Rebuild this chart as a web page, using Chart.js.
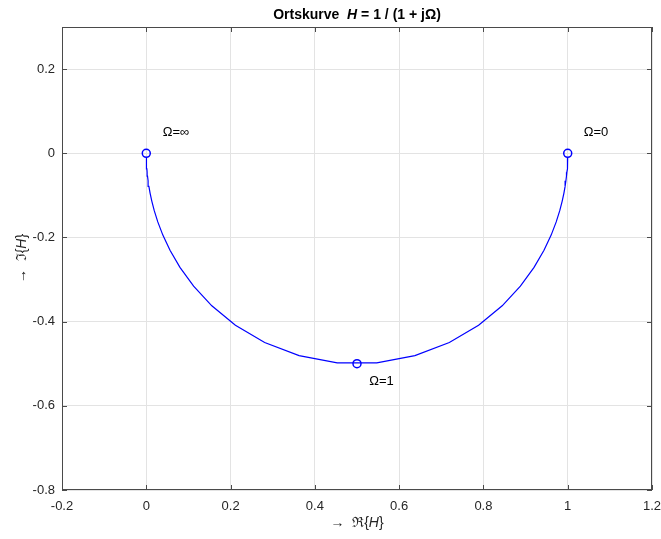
<!DOCTYPE html>
<html><head><meta charset="utf-8">
<script src="https://cdn.jsdelivr.net/npm/chart.js@4.4.0/dist/chart.umd.min.js"></script>
<style>html,body{margin:0;padding:0;background:#fff}#wrap{width:661px;height:539px}</style>
</head><body><div id="wrap"><canvas id="c" width="661" height="539"></canvas></div>
<script>
const reH = [0.9999,0.9999,0.9998,0.9997,0.9996,0.9993,0.9990,0.9986,0.9980,0.9971,0.9957,0.9938,0.9910,0.9869,0.9811,0.9727,0.9607,0.9437,0.9201,0.8877,0.8445,0.7885,0.7191,0.6374,0.5469,
             0.4531,0.3626,0.2809,0.2115,0.1555,0.1123,0.0799,0.0563,0.0393,0.0273,0.0189,0.0131,0.0090,0.0062,0.0043,0.0029,0.0020,0.0014,0.0010,0.0007,0.0004,0.0003,0.0002,0.0001,0.0001];
const imH = [-0.0100,-0.0121,-0.0146,-0.0176,-0.0212,-0.0256,-0.0309,-0.0372,-0.0449,-0.0541,-0.0652,-0.0786,-0.0946,-0.1136,-0.1363,-0.1631,-0.1944,-0.2305,-0.2712,-0.3157,-0.3624,-0.4084,-0.4495,-0.4808,-0.4978,
             -0.4978,-0.4808,-0.4495,-0.4084,-0.3624,-0.3157,-0.2712,-0.2305,-0.1944,-0.1631,-0.1363,-0.1136,-0.0946,-0.0786,-0.0652,-0.0541,-0.0449,-0.0372,-0.0309,-0.0256,-0.0212,-0.0176,-0.0146,-0.0121,-0.0100];
const markerRe = [1, 0.5, 0];
const markerIm = [0, -0.5, 0];
const labelText = ['Ω=0', 'Ω=1', 'Ω=∞'];
const labelRe = [1.038, 0.529, 0.039];
const labelIm = [0.05, -0.541, 0.05];
const xTicks = [-0.2, 0, 0.2, 0.4, 0.6, 0.8, 1, 1.2];
const yTicks = [-0.8, -0.6, -0.4, -0.2, 0, 0.2];
const xRange = [-0.2, 1.2];
const yRange = [-0.8, 0.3];

const FONT = '"Liberation Sans", Arial, Helvetica, sans-serif';
const TXT = '#262626';

function drawSegs(ctx, segs, cx, cy, size) {
  let total = 0;
  segs.forEach(s => { ctx.font = s.style + ' ' + size + 'px ' + FONT; s.w = ctx.measureText(s.t).width; total += s.w; });
  let x = cx - total / 2;
  ctx.textAlign = 'left'; ctx.textBaseline = 'middle';
  segs.forEach(s => { ctx.font = s.style + ' ' + size + 'px ' + FONT; ctx.fillText(s.t, x, cy); x += s.w; });
}

const decor = {
  id: 'decor',
  afterDraw(chart) {
    const ctx = chart.ctx, a = chart.chartArea;
    const xs = chart.scales.x, ys = chart.scales.y;
    ctx.save();
    // box
    ctx.strokeStyle = '#4a4a4a'; ctx.lineWidth = 1;
    ctx.strokeRect(Math.round(a.left) + 0.5, Math.round(a.top) + 0.5, Math.round(a.right - a.left) - 1, Math.round(a.bottom - a.top) - 1);
    // inward ticks
    ctx.beginPath();
    xTicks.forEach(v => { const px = Math.round(xs.getPixelForValue(v)) + 0.5;
      ctx.moveTo(px, a.bottom); ctx.lineTo(px, a.bottom - 5);
      ctx.moveTo(px, a.top); ctx.lineTo(px, a.top + 5); });
    yTicks.forEach(v => { const py = Math.round(ys.getPixelForValue(v)) + 0.5;
      ctx.moveTo(a.left, py); ctx.lineTo(a.left + 5, py);
      ctx.moveTo(a.right, py); ctx.lineTo(a.right - 5, py); });
    ctx.stroke();
    // point labels
    ctx.fillStyle = '#000'; ctx.font = '13px ' + FONT; ctx.textAlign = 'left'; ctx.textBaseline = 'middle';
    labelText.forEach((t, i) => ctx.fillText(t, xs.getPixelForValue(labelRe[i]), ys.getPixelForValue(labelIm[i])));
    // title
    ctx.fillStyle = '#000';
    drawSegs(ctx, [{t:'Ortskurve  ', style:'bold'}, {t:'H', style:'italic bold'}, {t:' = 1 / (1 + jΩ)', style:'bold'}], (a.left + a.right) / 2, 15.5, 14);
    // axis labels
    ctx.fillStyle = TXT;
    drawSegs(ctx, [{t:'→  ℜ{', style:'normal'}, {t:'H', style:'italic'}, {t:'}', style:'normal'}], (a.left + a.right) / 2, 523, 14);
    ctx.translate(22, (a.top + a.bottom) / 2); ctx.rotate(-Math.PI / 2);
    drawSegs(ctx, [{t:'→  ℑ{', style:'normal'}, {t:'H', style:'italic'}, {t:'}', style:'normal'}], 0, 0, 14);
    ctx.restore();
  }
};

const fmt = v => String(Math.round(v * 10) / 10);

new Chart(document.getElementById('c'), {
  type: 'scatter',
  data: {
    datasets: [
      { data: reH.map((r, i) => ({x: r, y: imH[i]})), showLine: true, borderColor: '#0000ff', borderWidth: 1.2, pointRadius: 0, fill: false },
      { data: markerRe.map((r, i) => ({x: r, y: markerIm[i]})), showLine: false, borderColor: '#0000ff', backgroundColor: 'rgba(0,0,0,0)', borderWidth: 1.5, pointRadius: 4, pointStyle: 'circle' }
    ]
  },
  options: {
    responsive: false, animation: false, devicePixelRatio: 1,
    layout: { padding: { top: 27, right: 9, left: 0, bottom: 0 } },
    plugins: { legend: { display: false }, tooltip: { enabled: false }, title: { display: false } },
    scales: {
      x: { type: 'linear', min: xRange[0], max: xRange[1],
        afterBuildTicks: s => { s.ticks = xTicks.map(v => ({value: v})); },
        afterFit: s => { s.height = 49; s.paddingLeft = 0; s.paddingRight = 0; },
        grid: { color: '#e3e3e3', drawTicks: false, lineWidth: 1 }, border: { display: false },
        ticks: { padding: 9, color: TXT, font: { size: 13, family: FONT }, callback: fmt, maxRotation: 0 } },
      y: { type: 'linear', min: yRange[0], max: yRange[1],
        afterBuildTicks: s => { s.ticks = yTicks.map(v => ({value: v})); },
        afterFit: s => { s.width = 62; s.paddingTop = 0; s.paddingBottom = 0; },
        grid: { color: '#e3e3e3', drawTicks: false, lineWidth: 1 }, border: { display: false },
        ticks: { padding: 7, color: TXT, font: { size: 13, family: FONT }, callback: fmt } }
    }
  },
  plugins: [decor]
});
</script></body></html>
